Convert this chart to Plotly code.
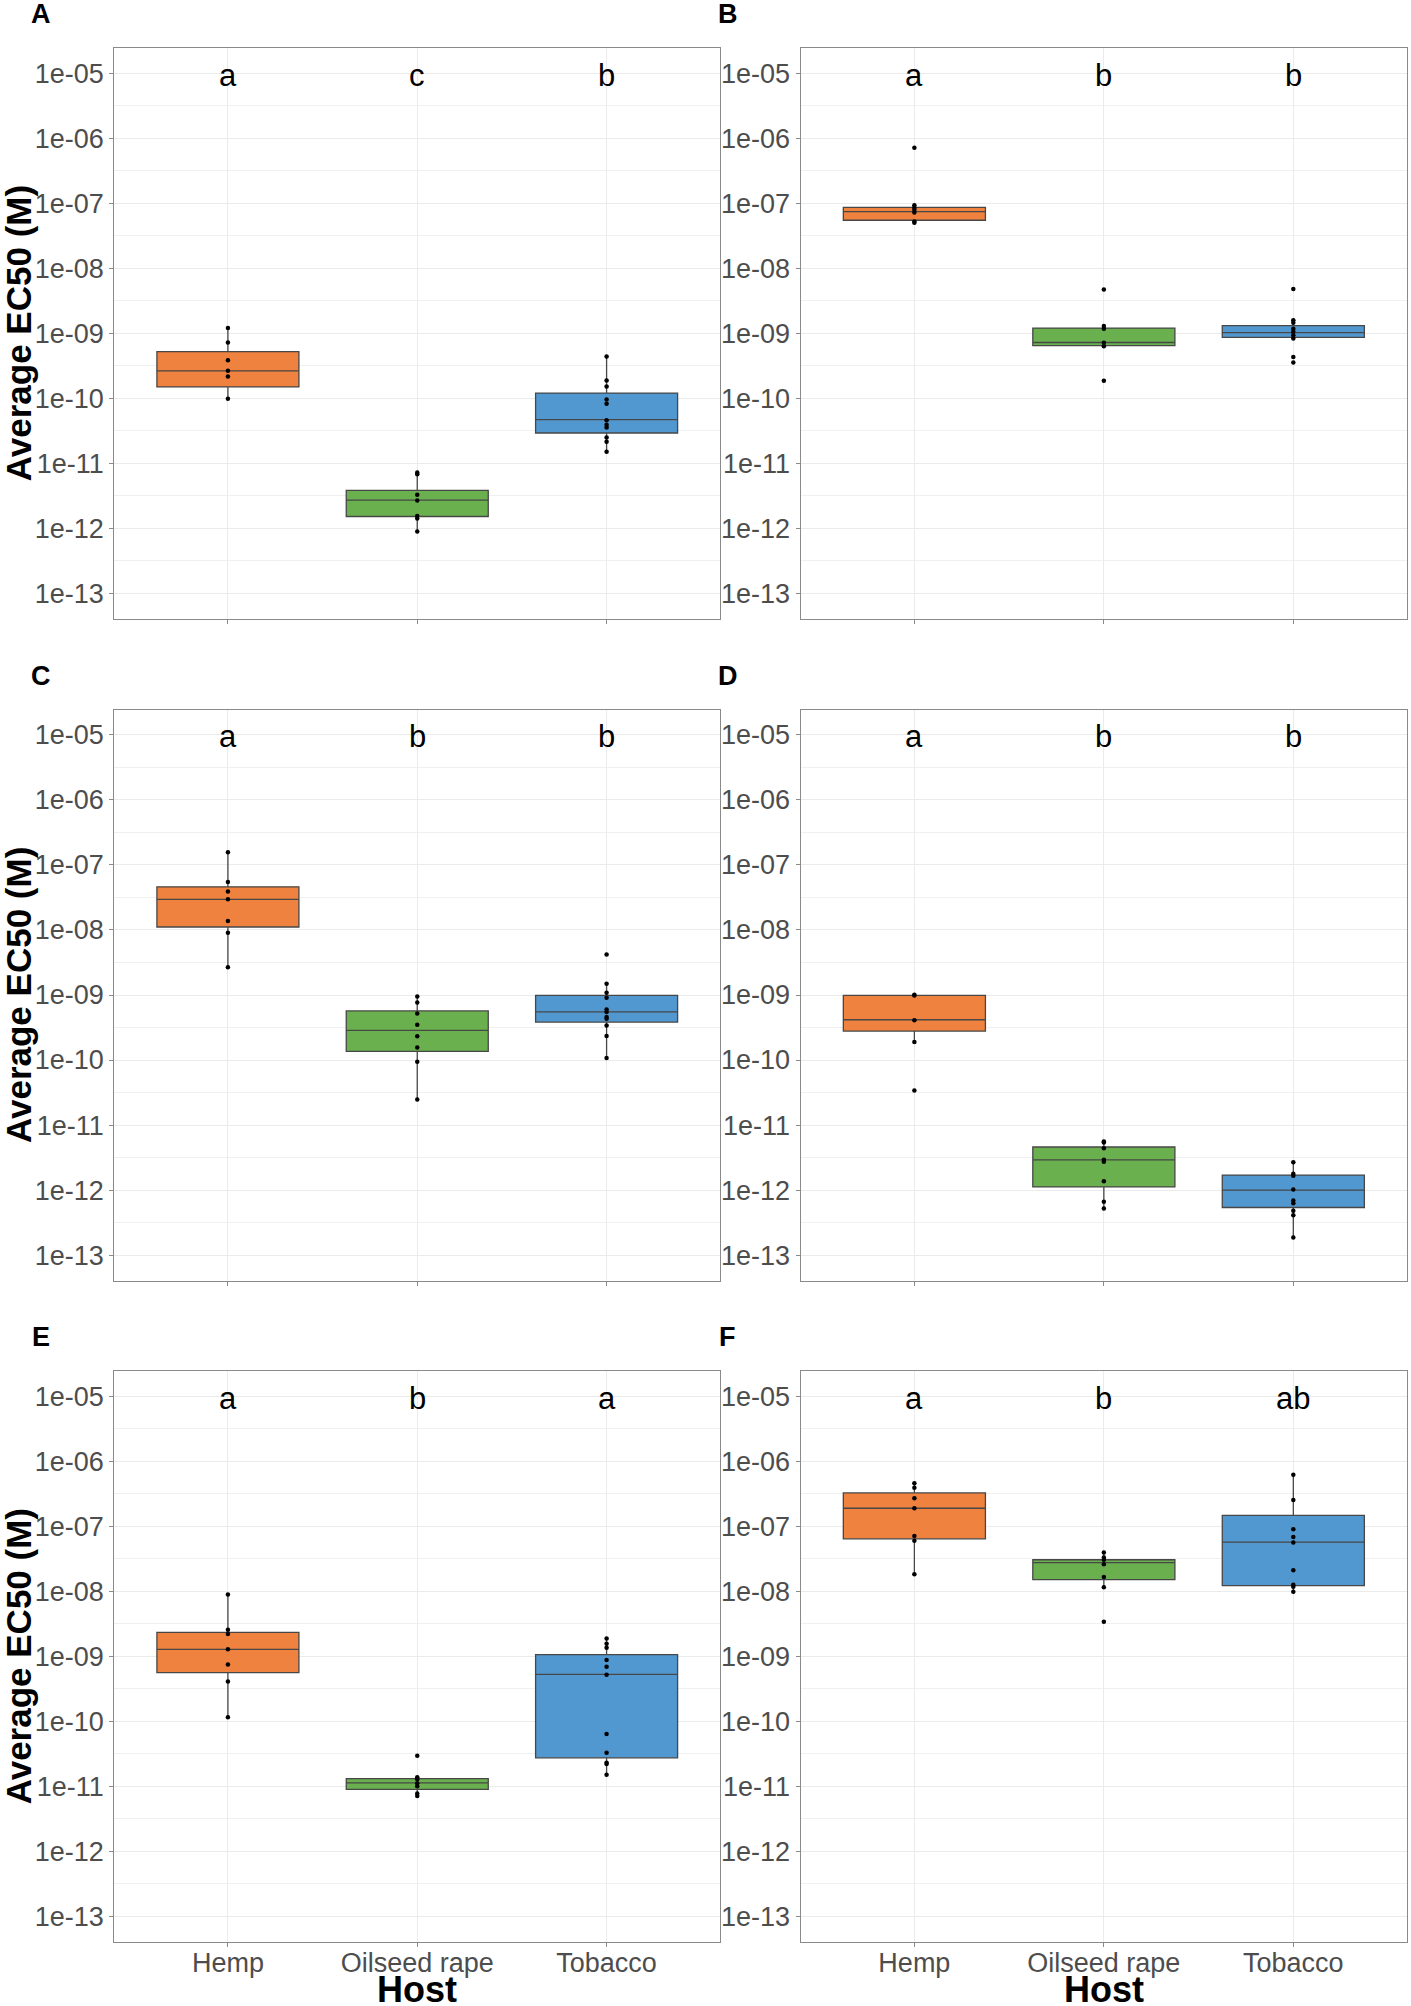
import plotly.graph_objects as go

# ---------------- data (EC50 in M) ----------------
hosts = ["Hemp", "Oilseed rape", "Tobacco"]
colors = ["#EE823E", "#6AB04F", "#5298D0"]
panel_labels = ["A", "B", "C", "D", "E", "F"]

letters_A = ["a", "c", "b"]
letters_B = ["a", "b", "b"]
letters_C = ["a", "b", "b"]
letters_D = ["a", "b", "b"]
letters_E = ["a", "b", "a"]
letters_F = ["a", "b", "ab"]

# box statistics per host: [Hemp, Oilseed rape, Tobacco]
q1_A = [1.49e-10, 1.52e-12, 2.92e-11]
med_A = [2.64e-10, 2.71e-12, 4.7e-11]
q3_A = [5.2e-10, 3.83e-12, 1.2e-10]
lo_A = [9.8e-11, 8.9e-13, 1.51e-11]
hi_A = [1.2e-9, 7.2e-12, 4.4e-10]
pts_A_hemp = [1.2e-9, 7.2e-10, 3.85e-10, 2.64e-10, 2.16e-10, 9.8e-11]
pts_A_rape = [7.2e-12, 6.8e-12, 3.27e-12, 2.67e-12, 1.55e-12, 1.41e-12, 8.9e-13]
pts_A_tob = [4.4e-10, 1.87e-10, 1.51e-10, 9.6e-11, 8.2e-11, 4.6e-11, 3.9e-11, 3.55e-11, 2.5e-11, 2.14e-11, 1.51e-11]

q1_B = [5.45e-8, 6.45e-10, 8.6e-10]
med_B = [7.4e-8, 7.2e-10, 1.02e-9]
q3_B = [8.6e-8, 1.2e-9, 1.31e-9]
lo_B = [5.0e-8, 6.3e-10, 8.3e-10]
hi_B = [9.3e-8, 1.29e-9, 1.58e-9]
pts_B_hemp = [7.1e-7, 9.3e-8, 8.5e-8, 7.9e-8, 7.2e-8, 5.2e-8, 5.0e-8]
pts_B_rape = [4.7e-9, 1.29e-9, 1.17e-9, 7.1e-10, 6.3e-10, 1.86e-10]
pts_B_tob = [4.8e-9, 1.58e-9, 1.45e-9, 1.17e-9, 1.05e-9, 9.3e-10, 8.3e-10, 4.3e-10, 3.55e-10]

q1_C = [1.11e-8, 1.36e-10, 3.84e-10]
med_C = [2.96e-8, 2.86e-10, 5.5e-10]
q3_C = [4.6e-8, 5.7e-10, 9.9e-10]
lo_C = [2.67e-9, 2.48e-11, 1.07e-10]
hi_C = [1.56e-7, 9.5e-10, 1.49e-9]
pts_C_hemp = [1.56e-7, 5.46e-8, 3.92e-8, 2.96e-8, 1.37e-8, 9.1e-9, 2.67e-9]
pts_C_rape = [9.5e-10, 7.7e-10, 5.2e-10, 3.5e-10, 2.32e-10, 1.56e-10, 9.4e-11, 2.48e-11]
pts_C_tob = [4.2e-9, 1.49e-9, 1.08e-9, 9.1e-10, 6.0e-10, 5.5e-10, 4.6e-10, 4.3e-10, 3.4e-10, 2.34e-10, 1.07e-10]

q1_D = [2.79e-10, 1.12e-12, 5.4e-13]
med_D = [4.16e-10, 2.92e-12, 1.0e-12]
q3_D = [9.9e-10, 4.6e-12, 1.7e-12]
lo_D = [1.9e-10, 5.2e-13, 1.86e-13]
hi_D = [1.01e-9, 5.6e-12, 2.67e-12]
pts_D_hemp = [1.01e-9, 9.8e-10, 4.1e-10, 1.9e-10, 3.4e-11]
pts_D_rape = [5.6e-12, 5.4e-12, 4.4e-12, 2.92e-12, 2.74e-12, 1.37e-12, 6.6e-13, 5.2e-13]
pts_D_tob = [2.67e-12, 1.78e-12, 1.66e-12, 1.02e-12, 6.9e-13, 6.3e-13, 4.8e-13, 4.1e-13, 1.86e-13]

q1_E = [5.6e-10, 9.0e-12, 2.75e-11]
med_E = [1.28e-9, 1.13e-11, 5.26e-10]
q3_E = [2.33e-9, 1.32e-11, 1.06e-9]
lo_E = [1.16e-10, 7.1e-12, 1.51e-11]
hi_E = [8.9e-9, 1.38e-11, 1.88e-9]
pts_E_hemp = [8.9e-9, 2.55e-9, 2.21e-9, 1.28e-9, 7.5e-10, 4.1e-10, 1.16e-10]
pts_E_rape = [2.95e-11, 1.38e-11, 1.29e-11, 1.12e-11, 1.0e-11, 7.8e-12, 7.1e-12]
pts_E_tob = [1.88e-9, 1.56e-9, 1.35e-9, 8.8e-10, 6.9e-10, 5.2e-10, 6.4e-11, 3.3e-11, 2.3e-11, 2.2e-11, 1.51e-11]

q1_F = [6.4e-8, 1.51e-8, 1.22e-8]
med_F = [1.89e-7, 2.75e-8, 5.7e-8]
q3_F = [3.25e-7, 3.05e-8, 1.47e-7]
lo_F = [1.82e-8, 1.15e-8, 9.8e-9]
hi_F = [4.6e-7, 3.94e-8, 6.2e-7]
pts_F_hemp = [4.6e-7, 3.9e-7, 2.7e-7, 1.89e-7, 7.1e-8, 6.0e-8, 1.82e-8]
pts_F_rape = [3.94e-8, 3.3e-8, 3.05e-8, 2.6e-8, 1.66e-8, 1.15e-8, 3.4e-9]
pts_F_tob = [6.2e-7, 2.53e-7, 9.0e-8, 6.8e-8, 5.6e-8, 2.1e-8, 1.26e-8, 1.17e-8, 9.8e-9]

y_tickvals = [1e-5, 1e-6, 1e-7, 1e-8, 1e-9, 1e-10, 1e-11, 1e-12, 1e-13]
y_ticktext = ["1e-05", "1e-06", "1e-07", "1e-08", "1e-09", "1e-10", "1e-11", "1e-12", "1e-13"]
y_minor = [3.1623e-6, 3.1623e-7, 3.1623e-8, 3.1623e-9, 3.1623e-10, 3.1623e-11, 3.1623e-12, 3.1623e-13]

panels = [
    (letters_A, q1_A, med_A, q3_A, lo_A, hi_A, [pts_A_hemp, pts_A_rape, pts_A_tob]),
    (letters_B, q1_B, med_B, q3_B, lo_B, hi_B, [pts_B_hemp, pts_B_rape, pts_B_tob]),
    (letters_C, q1_C, med_C, q3_C, lo_C, hi_C, [pts_C_hemp, pts_C_rape, pts_C_tob]),
    (letters_D, q1_D, med_D, q3_D, lo_D, hi_D, [pts_D_hemp, pts_D_rape, pts_D_tob]),
    (letters_E, q1_E, med_E, q3_E, lo_E, hi_E, [pts_E_hemp, pts_E_rape, pts_E_tob]),
    (letters_F, q1_F, med_F, q3_F, lo_F, hi_F, [pts_F_hemp, pts_F_rape, pts_F_tob]),
]

# ---------------- layout geometry (pixels) ----------------
W, H = 1411, 2006
col_x = [(114.3, 720.2), (800.7, 1407.0)]
row_y = [(47.7, 618.7), (709.5, 1280.5), (1370.8, 1941.8)]

FONT = "Liberation Sans, Arial, sans-serif"
TICK_COL = "#4d4d4d"

fig = go.Figure()
annotations = []
layout_axes = {}

for i, (letters, q1, med, q3, lo, hi, pts) in enumerate(panels):
    r, c = divmod(i, 2)
    n = i + 1
    xa = "x" if n == 1 else f"x{n}"
    ya = "y" if n == 1 else f"y{n}"
    x0, x1 = col_x[c]
    yt, yb = row_y[r]
    xdom = [x0 / W, x1 / W]
    ydom = [1 - yb / H, 1 - yt / H]

    for k, host in enumerate(hosts):
        fig.add_trace(go.Box(
            x=[host], q1=[q1[k]], median=[med[k]], q3=[q3[k]],
            lowerfence=[lo[k]], upperfence=[hi[k]],
            width=0.75, whiskerwidth=0, boxpoints=False,
            fillcolor=colors[k], line=dict(color="#474747", width=1.3),
            xaxis=xa, yaxis=ya, showlegend=False, hoverinfo="skip",
        ))
        fig.add_trace(go.Scatter(
            x=[host] * len(pts[k]), y=pts[k], mode="markers",
            marker=dict(color="black", size=4.5),
            xaxis=xa, yaxis=ya, showlegend=False, hoverinfo="skip",
        ))
        annotations.append(dict(
            x=host, y=-5, xref=xa, yref=ya, text=letters[k], showarrow=False,
            yshift=-2,
            font=dict(family=FONT, size=31, color="black"),
        ))

    bottom = (r == 2)
    layout_axes["xaxis" if n == 1 else f"xaxis{n}"] = dict(
        domain=xdom, anchor=ya, type="category",
        categoryorder="array", categoryarray=hosts,
        range=[-0.6, 2.6], showgrid=True, gridcolor="#ebebeb", gridwidth=1,
        showline=True, mirror=True, linecolor="#8a8a8a", linewidth=1.3,
        ticks="outside", ticklen=4, tickcolor="#8a8a8a", tickwidth=1,
        showticklabels=bottom, ticklabelstandoff=-7,
        tickfont=dict(family=FONT, size=27, color=TICK_COL),
        zeroline=False, fixedrange=True,
    )
    layout_axes["yaxis" if n == 1 else f"yaxis{n}"] = dict(
        domain=ydom, anchor=xa, type="log", range=[-13.39, -4.61],
        tickvals=y_tickvals, ticktext=y_ticktext,
        showgrid=True, gridcolor="#ebebeb", gridwidth=1.1,
        minor=dict(tickvals=y_minor, showgrid=True, gridcolor="#f0f0f0", gridwidth=0.6, ticks=""),
        showline=True, mirror=True, linecolor="#8a8a8a", linewidth=1.3,
        ticks="outside", ticklen=4, tickcolor="#8a8a8a", tickwidth=1,
        tickfont=dict(family=FONT, size=27, color=TICK_COL),
        zeroline=False, fixedrange=True,
    )

    # panel letter
    annotations.append(dict(
        x=(x0 - 73) / W, y=1 - (yt - 34) / H, xref="paper", yref="paper",
        text=f"<b>{panel_labels[i]}</b>", showarrow=False,
        xanchor="center", yanchor="middle",
        font=dict(family=FONT, size=27, color="black"),
    ))
    # y-axis title only on left column
    if c == 0:
        annotations.append(dict(
            x=18 / W, y=1 - ((yt + yb) / 2) / H, xref="paper", yref="paper",
            text="<b>Average EC50 (M)</b>", showarrow=False, textangle=-90,
            xanchor="center", yanchor="middle",
            font=dict(family=FONT, size=35, color="black"),
        ))
    if bottom:
        annotations.append(dict(
            x=((x0 + x1) / 2) / W, y=1 - 1989 / H, xref="paper", yref="paper",
            text="<b>Host</b>", showarrow=False,
            xanchor="center", yanchor="middle",
            font=dict(family=FONT, size=36, color="black"),
        ))

fig.update_layout(
    width=W, height=H, autosize=False,
    margin=dict(l=0, r=0, t=0, b=0),
    paper_bgcolor="white", plot_bgcolor="white",
    annotations=annotations, showlegend=False,
    font=dict(family=FONT),
    **layout_axes,
)

fig.write_html("out.html", include_plotlyjs=True,
               config={"displayModeBar": False},
               post_script="document.body.style.margin='0';")
